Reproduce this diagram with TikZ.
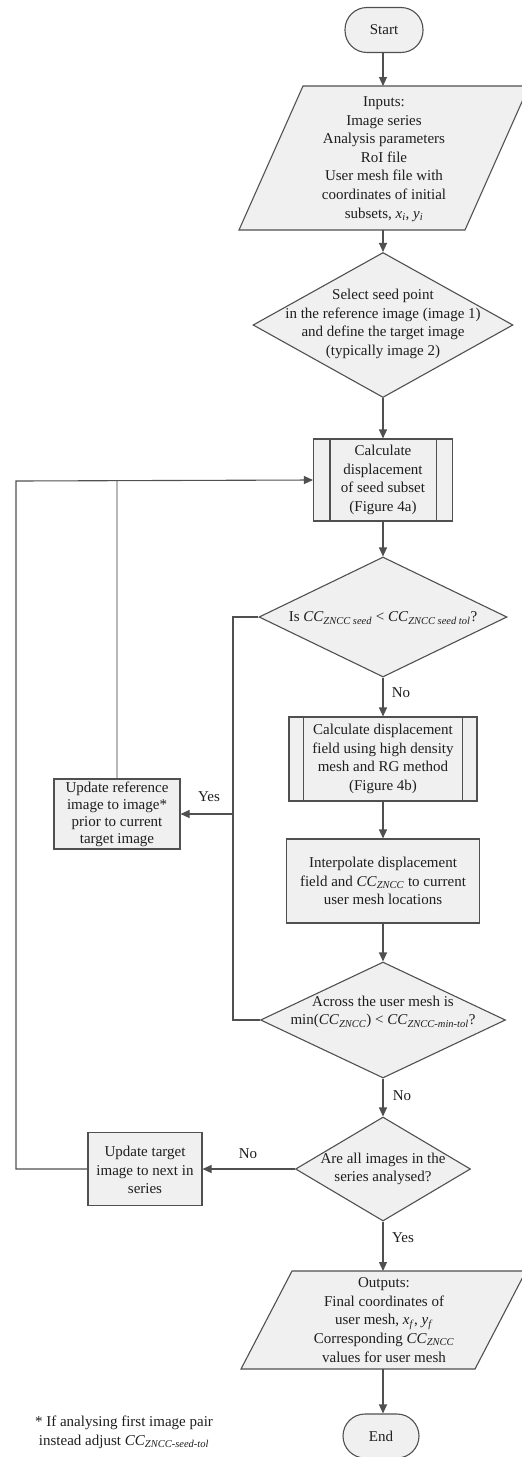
\documentclass[tikz,border=0pt]{standalone}
\usepackage{fontspec}
\setmainfont{Liberation Serif}
\usetikzlibrary{shapes.geometric,arrows.meta}
\definecolor{ln}{HTML}{505050}
\definecolor{fl}{HTML}{F0F0F0}
\definecolor{lg}{HTML}{B8B8B8}
\definecolor{tx}{HTML}{1E1E1E}
\newcommand\ccz[1]{\textit{CC}\textsubscript{\textit{#1}}}
\begin{document}
\begin{tikzpicture}[x=1pt,y=-1pt,
  font=\fontsize{15}{18.6}\selectfont,
  every node/.style={text=tx},
  line/.style={draw=ln, line width=1.1pt},
  arr/.style={line, -{Triangle[length=9pt,width=8pt]}},
  shp/.style={draw=ln, line width=1.1pt, fill=fl},
  term/.style={shp, rectangle, rounded corners=22pt, minimum width=78pt, minimum height=45pt, inner sep=0pt},
  dia/.style={shp, diamond, inner sep=0pt},
  box/.style={shp, rectangle, inner sep=0pt},
  txt/.style={align=center, inner sep=0pt},
  lab/.style={inner sep=0pt}
]
\useasboundingbox (0,0) rectangle (522,1457);

% Start
\node[term] (start) at (384,30) {Start};

% Inputs parallelogram
\coordinate (inN) at (383,86);
\coordinate (inS) at (383,230);
\draw[shp] (303,86) -- (529,86) -- (465,230) -- (239,230) -- cycle;
\node[txt] (inp) at (384,159) {Inputs:\\Image series\\Analysis parameters\\RoI file\\User mesh file with\\coordinates of initial\\subsets, \textit{x}\textsubscript{\textit{i}}, \textit{y}\textsubscript{\textit{i}}};

% Diamond 1
\node[dia, minimum width=260pt, minimum height=145pt] (d1) at (383,325) {};
\node[txt] (d1t) at (383,324) {Select seed point\\in the reference image (image 1)\\and define the target image\\(typically image 2)};

% Calculate displacement of seed subset
\node[box, minimum width=139pt, minimum height=82pt] (c1) at (383,480) {};
\draw[line] ([xshift=17pt]c1.north west) -- ([xshift=17pt]c1.south west);
\draw[line] ([xshift=-17pt]c1.north east) -- ([xshift=-17pt]c1.south east);
\node[txt] (c1t) at (383,480) {Calculate\\displacement\\of seed subset\\(Figure 4a)};

% Diamond 2
\node[dia, minimum width=248pt, minimum height=120pt] (d2) at (383,617) {};
\node[txt] (d2t) at (383,618) {Is \ccz{ZNCC seed} < \ccz{ZNCC seed tol}?};

% Calculate displacement field
\node[box, minimum width=188pt, minimum height=84pt] (c2) at (383,759) {};
\draw[line] ([xshift=15pt]c2.north west) -- ([xshift=15pt]c2.south west);
\draw[line] ([xshift=-15pt]c2.north east) -- ([xshift=-15pt]c2.south east);
\node[txt] (c2t) at (383,759) {Calculate displacement\\field using high density\\mesh and RG method\\(Figure 4b)};

% Interpolate
\node[box, minimum width=193pt, minimum height=84pt] (ip) at (383,881) {};
\node[txt] (ipt) at (383,881) {Interpolate displacement\\field and \ccz{ZNCC} to current\\user mesh locations};

% Diamond 3
\node[dia, minimum width=245pt, minimum height=116pt] (d3) at (383,1020) {};
\node[txt] (d3t) at (383,1012) {Across the user mesh is\\min(\ccz{ZNCC}) < \ccz{ZNCC-min-tol}?};

% Diamond 4
\node[dia, minimum width=175pt, minimum height=104pt] (d4) at (383,1169) {};
\node[txt] (d4t) at (383,1169) {Are all images in the\\series analysed?};

% Outputs parallelogram
\coordinate (outN) at (383,1271);
\coordinate (outS) at (383,1369);
\draw[shp] (292,1271) -- (526,1271) -- (475,1369) -- (241,1369) -- cycle;
\node[txt] (out) at (384,1320) {Outputs:\\Final coordinates of\\user mesh, \textit{x}\textsubscript{\textit{f}}, \textit{y}\textsubscript{\textit{f}}\\Corresponding \ccz{ZNCC}\\values for user mesh};

% End
\node[term, minimum width=76pt, minimum height=44pt] (end) at (381,1436) {End};

% Left boxes
\node[box, minimum width=126pt, minimum height=70pt] (u1) at (117,814) {};
\node[txt, font=\fontsize{15}{17}\selectfont] (u1t) at (117,814) {Update reference\\image to image*\\prior to current\\target image};
\node[box, minimum width=114pt, minimum height=73pt] (u2) at (145,1169) {};
\node[txt] (u2t) at (145,1170) {Update target\\image to next in\\series};

% Footnote
\node[txt] (fn) at (124,1432) {* If analysing first image pair\\instead adjust \ccz{ZNCC-seed-tol}};

% Main connectors
\draw[arr] (start.south -| inN) -- (inN);
\draw[arr] (inS) -- (d1.north);
\draw[arr] (d1.south) -- (c1.north);
\draw[arr] (c1.south) -- (d2.north);
\draw[arr] (d2.south) -- (c2.north);
\draw[arr] (c2.south) -- (ip.north);
\draw[arr] (ip.south) -- (d3.north);
\draw[arr] (d3.south) -- (d4.north);
\draw[arr] (d4.south) -- (outN);
\draw[arr] (outS) -- (outS |- end.north);

% Loop back
\coordinate (j1) at (233,617);
\coordinate (j2) at (233,1020);
\coordinate (j3) at (233,814);
\draw[line] (d2.west) -- (j1) -- (j2) -- (d3.west);
\draw[arr] (j3) -- (u1.east);
\coordinate (g1) at (117,481);
\draw[draw=lg, line width=1.1pt] (u1.north) -- (g1);

\draw[arr] (d4.west) -- (u2.east);
\coordinate (k1) at (16,1169);
\coordinate (k2) at (16,481);
\draw[arr] (u2.west) -- (k1) -- (k2) -- (c1.west);

% Labels
\node[lab] (l1) at (401,693) {No};
\node[lab] (l2) at (402,1096) {No};
\node[lab] (l3) at (403,1238) {Yes};
\node[lab] (l4) at (209,797) {Yes};
\node[lab] (l5) at (248,1154) {No};
\end{tikzpicture}
\end{document}
